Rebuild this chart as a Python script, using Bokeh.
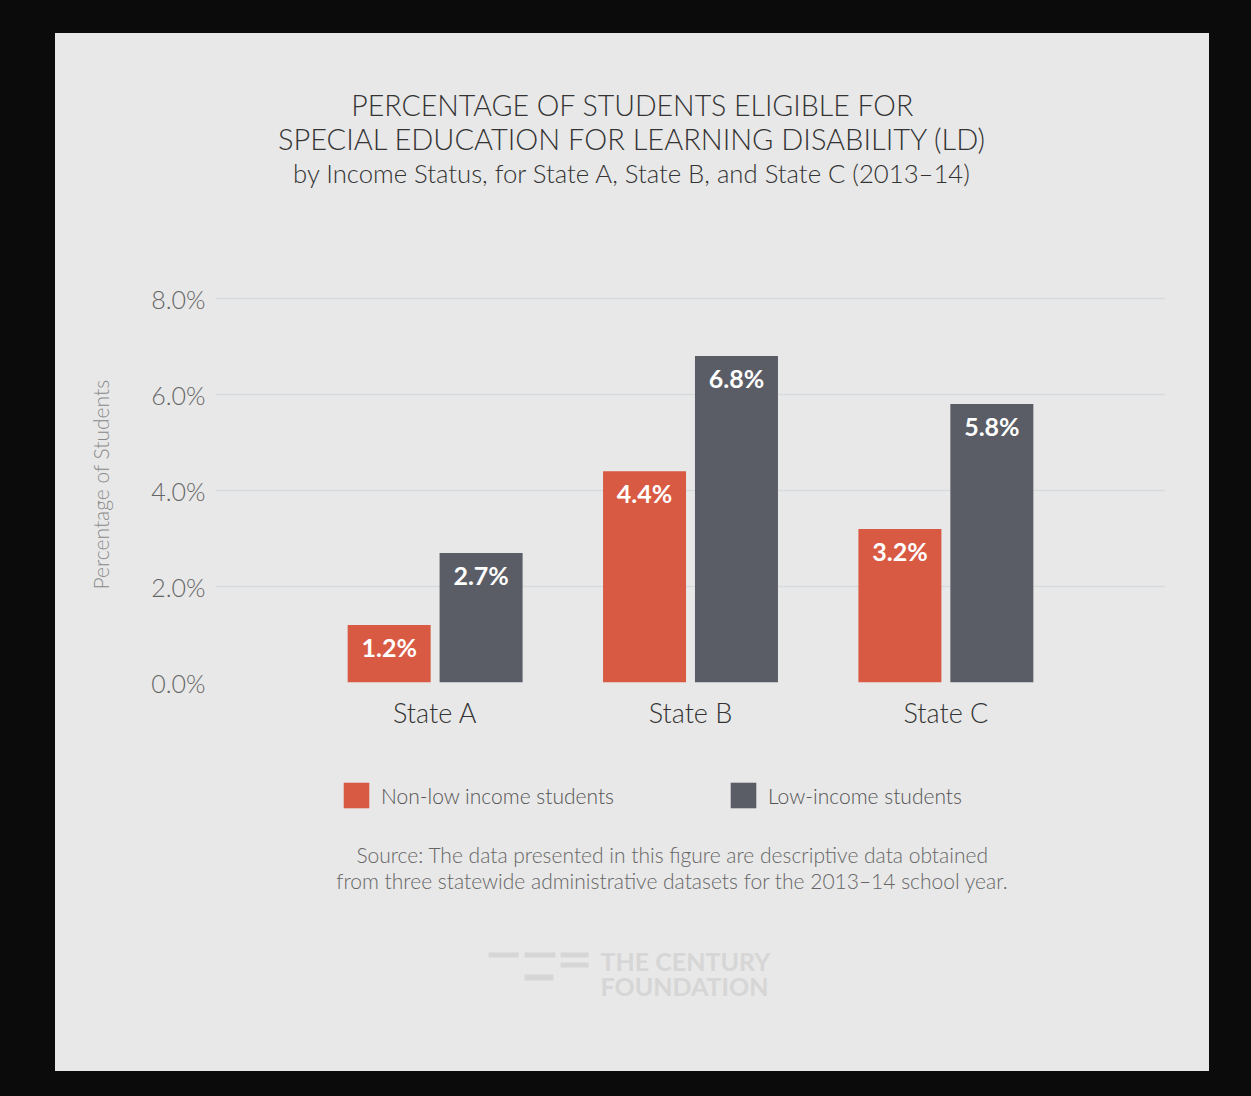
from bokeh.plotting import figure
from bokeh.layouts import column
from bokeh.models import (ColumnDataSource, FactorRange, Range1d, FixedTicker, PrintfTickFormatter,
                          Label, Legend, LegendItem, BoxAnnotation, GlobalInlineStyleSheet)
from bokeh.transform import dodge
from bokeh.core.properties import value
from bokeh.embed import file_html
from bokeh.resources import INLINE

# ---- data ----
states = ["State A", "State B", "State C"]
non_low_income = [1.2, 4.4, 3.2]
low_income = [2.7, 6.8, 5.8]
series_names = ["Non-low income students", "Low-income students"]
y_ticks = [0, 2, 4, 6, 8]

title_lines = [
    "PERCENTAGE OF STUDENTS ELIGIBLE FOR",
    "SPECIAL EDUCATION FOR LEARNING DISABILITY (LD)",
    "by Income Status, for State A, State B, and State C (2013\u201314)",
]
source_lines = [
    "Source: The data presented in this figure are descriptive data obtained",
    "from three statewide administrative datasets for the 2013\u201314 school year.",
]
logo_lines = ["THE CENTURY", "FOUNDATION"]

RED = "#d95a43"
GRAY = "#5a5d66"
PANEL = "#e8e8e8"
FONT = "Lato"
LIGHT = "Lato Light, Lato"
W = 1154
BL, BR = 160, 44          # side borders -> frame 950 px wide
FW = W - BL - BR


def blank_fig(h):
    f = figure(width=W, height=h, x_range=Range1d(0, FW), y_range=Range1d(0, h),
               output_backend="svg", toolbar_location=None,
               x_axis_location=None, y_axis_location=None,
               min_border_left=BL, min_border_right=BR, min_border_top=0, min_border_bottom=0,
               background_fill_color=None, border_fill_color=None,
               outline_line_color=None)
    f.grid.visible = False
    return f


# ---- title figure ----
H0 = 187
fig0 = blank_fig(H0)
for t, yy, fs in zip(title_lines, [116, 82, 48], ["28.5px", "29px", "25.7px"]):
    fig0.add_layout(Label(x=417, y=yy, text=t, text_font=LIGHT, text_font_size=fs,
                          text_color="#333333", text_align="center", text_baseline="middle"))

# ---- chart figure ----
src = ColumnDataSource(dict(
    state=states,
    nli=non_low_income,
    li=low_income,
    nli_lbl=[f"{v:.1f}%" for v in non_low_income],
    li_lbl=[f"{v:.1f}%" for v in low_income],
))

fig1 = figure(
    width=W, height=540,
    x_range=FactorRange(*states, range_padding=0.36, range_padding_units="absolute"),
    y_range=Range1d(0, 8.25),
    output_backend="svg", toolbar_location=None,
    min_border_left=BL, min_border_right=BR, min_border_top=66, min_border_bottom=78,
    background_fill_color=None, border_fill_color=None, outline_line_color=None,
)

OFF = 0.18
BW = 0.325
r1 = fig1.vbar(x=dodge("state", -OFF, range=fig1.x_range), top="nli", width=BW, source=src,
               fill_color=RED, line_color=None)
r2 = fig1.vbar(x=dodge("state", OFF, range=fig1.x_range), top="li", width=BW, source=src,
               fill_color=GRAY, line_color=None)

for col, top, off in (("nli_lbl", "nli", -OFF), ("li_lbl", "li", OFF)):
    fig1.text(x=dodge("state", off, range=fig1.x_range), y=top, text=col, source=src,
              text_color="white", text_font=value(FONT), text_font_style="bold",
              text_font_size="25px", text_align="center", text_baseline="middle", y_offset=22)

fig1.yaxis.ticker = FixedTicker(ticks=y_ticks)
fig1.yaxis.formatter = PrintfTickFormatter(format="%.1f%%")
fig1.yaxis.axis_line_color = None
fig1.yaxis.major_tick_line_color = None
fig1.yaxis.minor_tick_line_color = None
fig1.yaxis.major_tick_out = 0
fig1.yaxis.major_label_standoff = 10
fig1.yaxis.major_label_text_font = LIGHT
fig1.yaxis.major_label_text_font_size = "25px"
fig1.yaxis.major_label_text_color = "#666666"
fig1.yaxis.axis_label = "Percentage of Students"
fig1.yaxis.axis_label_text_font = LIGHT
fig1.yaxis.axis_label_text_font_style = "normal"
fig1.yaxis.axis_label_text_font_size = "21px"
fig1.yaxis.axis_label_text_color = "#8a8a8a"
fig1.yaxis.axis_label_standoff = 35

fig1.xaxis.axis_line_color = None
fig1.xaxis.major_tick_line_color = None
fig1.xaxis.major_tick_out = 0
fig1.xaxis.major_label_standoff = 13
fig1.xaxis.major_label_text_font = LIGHT
fig1.xaxis.major_label_text_font_size = "27px"
fig1.xaxis.major_label_text_color = "#333333"

fig1.xgrid.grid_line_color = None
fig1.ygrid.grid_line_color = "#d5dadd"
fig1.ygrid.grid_line_width = 1.5

# ---- bottom figure: legend, source, logo ----
H2 = 311
fig2 = blank_fig(H2)
# zero-size proxy glyphs that carry the legend swatch styles
lr1 = fig2.vbar(x=[0], top=[0], bottom=[0], width=0, fill_color=RED, line_color=None)
lr2 = fig2.vbar(x=[0], top=[0], bottom=[0], width=0, fill_color=GRAY, line_color=None)
legend = Legend(
    items=[LegendItem(label=series_names[0], renderers=[lr1]),
           LegendItem(label=series_names[1], renderers=[lr2])],
    orientation="horizontal", location=(125, 260),
    glyph_width=32, glyph_height=32, label_height=32, label_standoff=9, spacing=113,
    label_text_font=LIGHT, label_text_font_size="21px", label_text_color="#555555",
    padding=0, margin=0, border_line_color=None, background_fill_alpha=0,
)
fig2.add_layout(legend)

for t, yy in zip(source_lines, [217, 191]):
    fig2.add_layout(Label(x=457, y=yy, text=t, text_font=LIGHT, text_font_size="21px",
                          text_color="#666666", text_align="center", text_baseline="middle"))

for t, yy in zip(logo_lines, [111, 86]):
    fig2.add_layout(Label(x=385, y=yy, text=t, text_font=FONT, text_font_style="bold",
                          text_font_size="25px", text_color="#d6d6d6",
                          text_align="left", text_baseline="middle"))
# logo mark (decoration)
for l, r, b, t in ((273, 303, 114, 119), (309, 340, 114, 119), (345, 373, 114, 119),
                   (345, 373, 104, 109), (309, 338, 91, 97)):
    fig2.add_layout(BoxAnnotation(left=l, right=r, bottom=b, top=t, fill_color="#d6d6d6",
                                  fill_alpha=1, line_color=None))

p = column(fig0, fig1, fig2, spacing=0, styles={"background-color": PANEL})
p.margin = (33, 42, 25, 55)
p.stylesheets = [GlobalInlineStyleSheet(css="html, body { background: #0b0b0b; margin: 0; padding: 0; }")]

open("out.html", "w").write(file_html(p, INLINE))
